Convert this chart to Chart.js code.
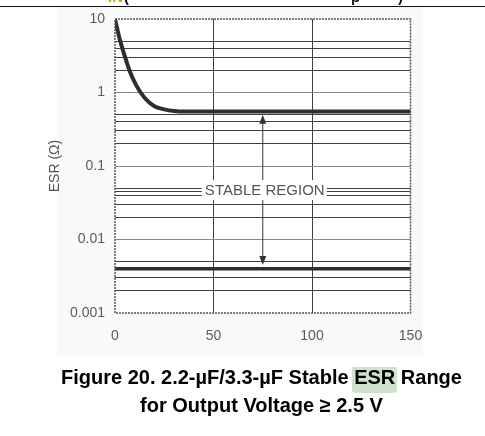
<!DOCTYPE html>
<html><head><meta charset="utf-8">
<script src="https://cdn.jsdelivr.net/npm/chart.js@4/dist/chart.umd.min.js"></script>
<style>
html,body{margin:0;padding:0;background:#fff;}
#wrap{position:relative;width:485px;height:436px;overflow:hidden;}
#bg{position:absolute;left:57px;top:7px;width:366px;height:350px;background:#f9f9f9;}
#c{position:absolute;left:0;top:0;}
#rule{position:absolute;left:0;top:6px;width:485px;height:1.4px;background:#111;}
.hdr{position:absolute;top:-12px;font:bold 15px "Liberation Sans",Arial,sans-serif;white-space:nowrap;}
.cap{position:absolute;left:0;width:523px;text-align:center;font:bold 20px/24px "Liberation Sans",Arial,sans-serif;color:#000;white-space:nowrap;}
.hl{background:linear-gradient(transparent 2px,#cfe2cc 2px);border-radius:4px;padding:1px 2px 5px 2px;margin:0 -2px;}
</style></head>
<body>
<div id="wrap">
  <div id="bg"></div>
  <canvas id="c" width="485" height="436"></canvas>
  <div id="rule"></div>
  <div class="hdr" style="left:108px;color:#c9a900;">IN</div>
  <div class="hdr" style="left:124px;color:#111;">(</div>
  <div class="hdr" style="left:351px;color:#111;">p</div>
  <div class="hdr" style="left:398px;color:#111;">)</div>
  <div class="cap" style="top:365px;">Figure 20. 2.2-µF/3.3-µF Stable <span class="hl">ESR</span> Range</div>
  <div class="cap" style="top:392.5px;">for Output Voltage ≥ 2.5 V</div>
</div>
<script>
// ---- data ----
const xTicks = [0, 50, 100, 150];
const yLabelTicks = [10, 1, 0.1, 0.01, 0.001];
const yLabelText = ['10', '1', '0.1', '0.01', '0.001'];
const yGridValues = [0.001, 0.002, 0.003, 0.004, 0.005,
                     0.01, 0.02, 0.03, 0.04, 0.045, 0.05,
                     0.1, 0.2, 0.3, 0.4, 0.5,
                     1, 2, 3, 4, 5, 10];
const upperX = [0, 2.5, 5, 7.5, 11, 15, 20, 25, 30, 35, 150];
const upperY = [10, 5.2, 3.1, 1.95, 1.22, 0.85, 0.65, 0.59, 0.56, 0.55, 0.55];
const lowerX = [0, 150];
const lowerY = [0.004, 0.004];
const regionLabel = 'STABLE REGION';
const arrowX = 75;
const arrowUpTip = 0.5;
const arrowDownTip = 0.0045;
const labelY = 0.047;

const FONT = '"Liberation Sans", Arial, sans-serif';
const isDecade = v => yLabelTicks.some(d => Math.abs(d - v) / d < 1e-6);

const decor = {
  id: 'decor',
  beforeDraw(chart) {
    const {ctx, chartArea: a} = chart;
    ctx.save();
    ctx.fillStyle = '#fff';
    ctx.fillRect(a.left, a.top, a.right - a.left, a.bottom - a.top);
    ctx.restore();
  },
  afterDatasetsDraw(chart) {
    const {ctx, chartArea: a, scales: {x, y}} = chart;
    const ax = x.getPixelForValue(arrowX);
    const ly = y.getPixelForValue(labelY);
    const upTip = y.getPixelForValue(arrowUpTip);
    const dnTip = y.getPixelForValue(arrowDownTip);
    ctx.save();
    ctx.fillStyle = '#fff';
    ctx.fillRect(ax - 61, ly - 10, 125, 20);
    ctx.fillStyle = '#555';
    ctx.font = '15px ' + FONT;
    ctx.textAlign = 'center';
    ctx.textBaseline = 'middle';
    ctx.fillText(regionLabel, ax + 2, ly + 1);
    ctx.strokeStyle = '#333';
    ctx.fillStyle = '#333';
    ctx.lineWidth = 1;
    ctx.beginPath();
    ctx.moveTo(ax, ly - 10); ctx.lineTo(ax, upTip + 6);
    ctx.moveTo(ax, ly + 10); ctx.lineTo(ax, dnTip - 6);
    ctx.stroke();
    ctx.beginPath();
    ctx.moveTo(ax, upTip); ctx.lineTo(ax - 3.5, upTip + 9); ctx.lineTo(ax + 3.5, upTip + 9); ctx.closePath();
    ctx.moveTo(ax, dnTip); ctx.lineTo(ax - 3.5, dnTip - 9); ctx.lineTo(ax + 3.5, dnTip - 9); ctx.closePath();
    ctx.fill();
    ctx.setLineDash([2, 1]);
    ctx.strokeStyle = '#555';
    ctx.lineWidth = 1.5;
    ctx.strokeRect(a.left, a.top, a.right - a.left, a.bottom - a.top);
    ctx.restore();
  }
};

new Chart(document.getElementById('c'), {
  type: 'line',
  data: {
    datasets: [
      { data: upperX.map((v, i) => ({x: v, y: upperY[i]})), borderColor: '#2e2e2e', borderWidth: 4,
        pointRadius: 0, cubicInterpolationMode: 'monotone', fill: false },
      { data: lowerX.map((v, i) => ({x: v, y: lowerY[i]})), borderColor: '#2e2e2e', borderWidth: 3.5,
        pointRadius: 0, fill: false }
    ]
  },
  options: {
    responsive: false,
    animation: false,
    events: [],
    layout: { padding: { left: 0, top: 19, right: 74.5, bottom: 0 } },
    plugins: { legend: { display: false }, tooltip: { enabled: false } },
    scales: {
      x: {
        type: 'linear', min: 0, max: 150,
        afterBuildTicks: s => { s.ticks = xTicks.map(v => ({value: v})); },
        afterFit: s => { s.height = 123; },
        ticks: { font: { family: FONT, size: 14 }, color: '#5c5c5c', padding: 15, autoSkip: false, maxRotation: 0 },
        grid: { drawTicks: false, lineWidth: 1,
          color: c => (c.tick && (c.tick.value === 0 || c.tick.value === 150)) ? 'rgba(0,0,0,0)' : '#404040' },
        border: { display: false }
      },
      y: {
        type: 'logarithmic', min: 0.001, max: 10,
        afterBuildTicks: s => { s.ticks = yGridValues.map(v => ({value: v})); },
        afterFit: s => { s.width = 115; },
        ticks: {
          font: { family: FONT, size: 14 }, color: '#5c5c5c', padding: 10, autoSkip: false,
          callback: v => { const i = yLabelTicks.findIndex(d => Math.abs(d - v) / d < 1e-6); return i >= 0 ? yLabelText[i] : ''; }
        },
        grid: { drawTicks: false, lineWidth: 1,
          color: c => {
            if (!c.tick) return '#404040';
            const v = c.tick.value;
            if (v === 10 || v === 0.001) return 'rgba(0,0,0,0)';
            return isDecade(v) ? '#8a8a8a' : '#404040';
          } },
        border: { display: false },
        title: { display: true, text: 'ESR (Ω)', color: '#555', font: { family: FONT, size: 14 }, padding: { top: 46.6, bottom: 0 } }
      }
    }
  },
  plugins: [decor]
});
</script>
</body></html>
